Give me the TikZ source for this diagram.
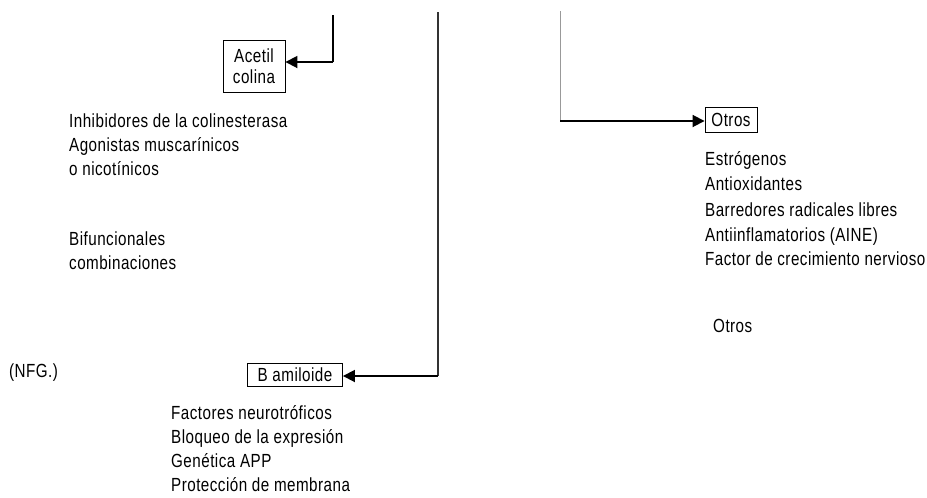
\documentclass[tikz,border=0pt]{standalone}
\usepackage{fontspec}
\setmainfont[FakeStretch=0.8,LetterSpace=2.5]{Liberation Sans}
\usetikzlibrary{arrows.meta}
\begin{document}
\begin{tikzpicture}[x=1pt,y=-1pt,
  lbl/.style={anchor=west,inner sep=0pt,text height=13pt,text depth=3pt,font=\fontsize{19}{21}\selectfont},
  boxed/.style={draw,line width=0.9pt,inner sep=3pt,font=\fontsize{19}{21}\selectfont,align=center},
  conn/.style={line width=1.8pt,-{Triangle[length=12pt,width=12pt]}}]
\useasboundingbox (0,0) rectangle (927,498);
% boxes
\node[boxed,minimum width=62pt,minimum height=52pt] (acetil) at (254,66) {Acetil\\[0pt]colina};
\node[boxed,minimum width=95pt,minimum height=23pt,inner sep=1pt] (bamil) at (295,375) {B amiloide};
\node[boxed,minimum width=52pt,minimum height=25pt,inner sep=1pt] (otros) at (731,120) {Otros};
% connector coordinates
\coordinate (t1) at (333,15);
\coordinate (c1) at (333,62);
\coordinate (t2) at (438,12);
\coordinate (c2) at (438,376);
\coordinate (t3) at (560,11);
\coordinate (c3) at (560,121);
\draw[line width=1.6pt] (t1) -- (c1);
\draw[conn] (c1) -- (acetil.east |- c1);
\draw[line width=1.4pt,black!80] (t2) -- (c2);
\draw[conn] (c2) -- (bamil.east |- c2);
\draw[line width=0.8pt,black!40] (t3) -- (c3);
\draw[conn] (c3) -- (otros.west |- c3);
% left texts
\node[lbl] (a1) at (69,122) {Inhibidores de la colinesterasa};
\node[lbl] (a2) at (69,146) {Agonistas muscarínicos};
\node[lbl] (a3) at (69,170) {o nicotínicos};
\node[lbl] (b1) at (69,240) {Bifuncionales};
\node[lbl] (b2) at (69,264) {combinaciones};
\node[lbl] (nfg) at (9,372) {(NFG.)};
% B amiloide list
\node[lbl] (f1) at (171,414) {Factores neurotróficos};
\node[lbl] (f2) at (171,438) {Bloqueo de la expresión};
\node[lbl] (f3) at (171,462) {Genética APP};
\node[lbl] (f4) at (171,486) {Protección de membrana};
% Otros list
\node[lbl] (o1) at (705,160) {Estrógenos};
\node[lbl] (o2) at (705,185) {Antioxidantes};
\node[lbl] (o3) at (705,211) {Barredores radicales libres};
\node[lbl] (o4) at (705,236) {Antiinflamatorios (AINE)};
\node[lbl] (o5) at (705,260) {Factor de crecimiento nervioso};
\node[lbl] (o6) at (713,327) {Otros};
\end{tikzpicture}
\end{document}
